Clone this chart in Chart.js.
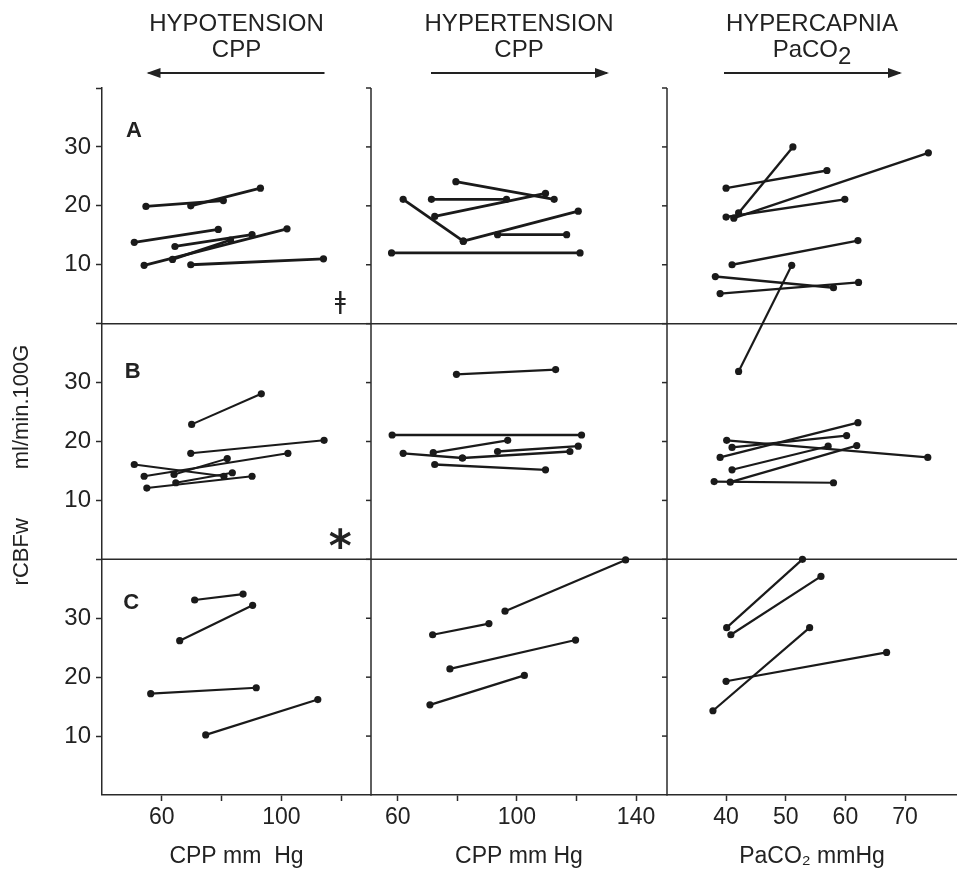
<!DOCTYPE html>
<html><head><meta charset="utf-8">
<script src="https://cdn.jsdelivr.net/npm/chart.js@4.4.0/dist/chart.umd.min.js"></script>
<style>html,body{margin:0;padding:0;background:#fff}#wrap{width:957px;height:874px}</style>
</head><body>
<div id="wrap"><canvas id="c" width="957" height="874"></canvas></div>
<script>
// ---- data: each entry = one animal, [x control, y control, x challenge, y challenge] ----
const hypotensionA = [
  [54.7, 19.9, 80.6, 20.9],
  [69.7, 20.0, 93.0, 23.0],
  [50.8, 13.8, 78.9, 16.0],
  [64.4, 13.1, 90.2, 15.1],
  [54.1, 9.9, 101.9, 16.1],
  [63.6, 10.9, 83.0, 14.2],
  [69.7, 10.0, 114.1, 11.0]
];
const hypertensionA = [
  [61.8, 21.1, 82.0, 14.0],
  [82.0, 14.0, 120.6, 19.1],
  [71.3, 21.1, 96.5, 21.1],
  [72.4, 18.2, 109.6, 22.1],
  [79.5, 24.1, 112.5, 21.1],
  [93.5, 15.1, 116.7, 15.1],
  [57.9, 12.0, 121.2, 12.0]
];
const hypercapniaA = [
  [40.0, 23.0, 56.9, 26.0],
  [42.1, 18.8, 51.2, 30.0],
  [40.0, 18.1, 59.9, 21.1],
  [41.3, 17.9, 73.9, 29.0],
  [41.0, 10.0, 62.1, 14.1],
  [38.2, 8.0, 58.0, 6.1],
  [39.0, 5.1, 62.2, 7.0]
];
const hypotensionB = [
  [70.0, 22.9, 93.3, 28.1],
  [69.7, 18.0, 114.3, 20.2],
  [54.1, 14.1, 102.2, 18.0],
  [50.8, 16.1, 80.8, 14.1],
  [64.1, 14.4, 81.9, 17.1],
  [55.0, 12.1, 90.2, 14.1],
  [64.7, 13.0, 83.6, 14.7]
];
const hypertensionB = [
  [79.7, 31.4, 113.0, 32.2],
  [58.1, 21.1, 121.7, 21.1],
  [61.8, 18.0, 81.7, 17.2],
  [71.9, 18.1, 96.9, 20.2],
  [81.7, 17.2, 117.8, 18.3],
  [93.5, 18.3, 120.6, 19.2],
  [72.4, 16.1, 109.6, 15.2]
];
const hypercapniaB = [
  [42.1, 31.9, 51.0, 49.9],
  [40.1, 20.2, 73.8, 17.3],
  [41.0, 19.0, 60.2, 21.0],
  [39.0, 17.3, 62.1, 23.2],
  [41.0, 15.2, 57.1, 19.2],
  [40.7, 13.1, 61.9, 19.3],
  [38.0, 13.2, 58.0, 13.0]
];
const hypotensionC = [
  [71.0, 33.1, 87.2, 34.1],
  [66.0, 26.2, 90.4, 32.2],
  [56.3, 17.2, 91.6, 18.2],
  [74.7, 10.2, 112.2, 16.2]
];
const hypertensionC = [
  [96.0, 31.2, 136.5, 39.9],
  [71.7, 27.2, 90.6, 29.1],
  [77.5, 21.4, 119.7, 26.3],
  [70.8, 15.3, 102.5, 20.3]
];
const hypercapniaC = [
  [40.1, 28.4, 52.8, 40.0],
  [40.8, 27.2, 55.9, 37.1],
  [37.8, 14.3, 54.0, 28.4],
  [40.0, 19.3, 66.9, 24.2]
];

// ---- tick values and labels ----
const flowTicks = [10, 20, 30, 40];
const flowTickLabels = [10, 20, 30];
const cppLowTicks = [60, 80, 100, 120];
const cppLowTickLabels = [60, 100];
const cppHighTicks = [60, 80, 100, 120, 140];
const cppHighTickLabels = [60, 100, 140];
const paco2Ticks = [40, 50, 60, 70];
const paco2TickLabels = [40, 50, 60, 70];

const columnTitles = ['HYPOTENSION', 'HYPERTENSION', 'HYPERCAPNIA'];
const columnSubtitles = ['CPP', 'CPP', 'PaCO'];
const columnSubscripts = ['', '', '2'];
const arrowDirections = [-1, 1, 1];
const xTitles = ['CPP mm  Hg', 'CPP mm Hg', 'PaCO\u2082 mmHg'];
const yTitle = 'rCBFw        ml/min.100G';
const rowLetters = ['A', 'B', 'C'];

const FONT = '"Liberation Sans", Arial, Helvetica, sans-serif';
const INK = '#1a1a1a';
const AXIS = '#2a2a2a';

function lines(rows, xID, yID, w) {
  return rows.map(r => ({
    data: [{x: r[0], y: r[1]}, {x: r[2], y: r[3]}],
    xAxisID: xID, yAxisID: yID, showLine: true,
    borderColor: INK, backgroundColor: INK, borderWidth: w,
    pointRadius: 3.6, pointBorderWidth: 0, pointHoverRadius: 3.6, clip: false
  }));
}

function xScale(min, max, ticks, shown, title, weight, sw) {
  return {
    type: 'linear', position: 'bottom', stack: 'cols', stackWeight: sw, weight: weight,
    min: min, max: max,
    afterBuildTicks: s => { s.ticks = ticks.map(v => ({value: v})); },
    afterFit: s => { s.height = 79; s.paddingLeft = 0; s.paddingRight = 0; },
    ticks: {callback: v => shown.includes(v) ? String(v) : '', font: {family: FONT, size: 23},
            color: '#222', padding: 3, maxRotation: 0, autoSkip: false},
    grid: {drawOnChartArea: false, drawTicks: true, tickLength: 6, tickWidth: 1.5, color: AXIS},
    border: {display: true, color: AXIS, width: 1.5},
    title: {display: true, text: title, font: {family: FONT, size: 23}, color: '#222', padding: {top: 0, bottom: 4}}
  };
}
function yScale(weight) {
  return {
    type: 'linear', position: 'left', stack: 'rows', stackWeight: 1, weight: weight,
    min: 0, max: 40,
    afterBuildTicks: s => { s.ticks = flowTicks.map(v => ({value: v})); },
    afterFit: s => { s.width = 102; s.paddingTop = 0; s.paddingBottom = 0; s.paddingLeft = 0; s.paddingRight = 0; },
    ticks: {callback: v => flowTickLabels.includes(v) ? String(v) : '', font: {family: FONT, size: 24},
            color: '#222', padding: 5},
    grid: {drawOnChartArea: false, drawTicks: true, tickLength: 6, tickWidth: 1.5, color: AXIS},
    border: {display: true, color: AXIS, width: 1.5}
  };
}

function line(ctx, x1, y1, x2, y2) { ctx.beginPath(); ctx.moveTo(x1, y1); ctx.lineTo(x2, y2); ctx.stroke(); }
function centered(ctx, text, x, y) {
  const m = ctx.measureText(text);
  const h = m.actualBoundingBoxAscent + m.actualBoundingBoxDescent;
  const w = m.actualBoundingBoxLeft + m.actualBoundingBoxRight;
  ctx.textAlign = 'left'; ctx.textBaseline = 'alphabetic';
  ctx.fillText(text, x - w / 2 + m.actualBoundingBoxLeft, y + h / 2 - m.actualBoundingBoxDescent);
}

const framePlugin = {
  id: 'frame',
  beforeDatasetsDraw(chart) {
    const {ctx, chartArea: ca, scales: s} = chart;
    ctx.save();
    ctx.strokeStyle = AXIS; ctx.lineWidth = 1.5;
    [s.yA.bottom, s.yB.bottom].forEach(y => line(ctx, ca.left, y, chart.width, y));
    [s.xHigh.left, s.xCO2.left].forEach(x => {
      line(ctx, x, ca.top, x, ca.bottom);
      ['yA', 'yB', 'yC'].forEach(id => flowTicks.forEach(v => {
        const py = s[id].getPixelForValue(v);
        line(ctx, x - 5, py, x, py);
      }));
    });
    ctx.restore();
  },
  afterDraw(chart) {
    const {ctx, chartArea: ca, scales: s} = chart;
    ctx.save();
    ctx.fillStyle = '#222'; ctx.strokeStyle = '#222';
    ['xLow', 'xHigh', 'xCO2'].forEach((id, i) => {
      const sc = s[id];
      const cx = (sc.left + sc.right) / 2;
      ctx.font = '24px ' + FONT;
      ctx.textAlign = 'center'; ctx.textBaseline = 'middle';
      ctx.fillText(columnTitles[i], cx, 24);
      const main = columnSubtitles[i], sub = columnSubscripts[i];
      const wm = ctx.measureText(main).width, ws = sub ? ctx.measureText(sub).width : 0;
      ctx.textAlign = 'left';
      ctx.fillText(main, cx - (wm + ws) / 2, 50);
      if (sub) ctx.fillText(sub, cx - (wm + ws) / 2 + wm, 57);
      const half = 88, ay = 73, d = arrowDirections[i];
      ctx.lineWidth = 2;
      line(ctx, cx - half, ay, cx + half, ay);
      const tip = cx + d * half;
      ctx.beginPath();
      ctx.moveTo(tip + d * 2, ay);
      ctx.lineTo(tip - d * 12, ay - 5);
      ctx.lineTo(tip - d * 12, ay + 5);
      ctx.closePath(); ctx.fill();
    });
    ctx.save();
    ctx.translate(22, 465);
    ctx.rotate(-Math.PI / 2);
    ctx.font = '22px ' + FONT;
    ctx.textAlign = 'center'; ctx.textBaseline = 'middle';
    ctx.fillText(yTitle, 0, 0);
    ctx.restore();
    ctx.font = 'bold 22px ' + FONT;
    centered(ctx, rowLetters[0], s.xLow.getPixelForValue(50.7), s.yA.getPixelForValue(32.0));
    centered(ctx, rowLetters[1], s.xLow.getPixelForValue(50.3), s.yB.getPixelForValue(32.0));
    centered(ctx, rowLetters[2], s.xLow.getPixelForValue(49.8), s.yC.getPixelForValue(32.8));
    ctx.font = '24px "DejaVu Sans"';
    centered(ctx, '\u01C2', s.xLow.getPixelForValue(119.7), s.yA.getPixelForValue(3.6));
    ctx.font = 'bold 44px "DejaVu Sans"';
    centered(ctx, '*', s.xLow.getPixelForValue(119.7), s.yB.getPixelForValue(3.6));
    ctx.restore();
  }
};

const datasets = [].concat(
  lines(hypotensionA, 'xLow', 'yA', 2.8), lines(hypertensionA, 'xHigh', 'yA', 2.8), lines(hypercapniaA, 'xCO2', 'yA', 2.4),
  lines(hypotensionB, 'xLow', 'yB', 2), lines(hypertensionB, 'xHigh', 'yB', 2.3), lines(hypercapniaB, 'xCO2', 'yB', 2.2),
  lines(hypotensionC, 'xLow', 'yC', 2.2), lines(hypertensionC, 'xHigh', 'yC', 2.2), lines(hypercapniaC, 'xCO2', 'yC', 2.2)
);

new Chart(document.getElementById('c'), {
  type: 'scatter',
  data: {datasets: datasets},
  options: {
    responsive: false, animation: false,
    layout: {autoPadding: false, padding: {top: 88, left: 0, right: 0, bottom: 0}},
    plugins: {legend: {display: false}, tooltip: {enabled: false}, title: {display: false}},
    scales: {
      xLow: xScale(40, 130, cppLowTicks, cppLowTickLabels, xTitles[0], 1, 269),
      xHigh: xScale(51, 150.4, cppHighTicks, cppHighTickLabels, xTitles[1], 2, 296),
      xCO2: xScale(30.1, 78.7, paco2Ticks, paco2TickLabels, xTitles[2], 3, 290),
      yA: yScale(3),
      yB: yScale(2),
      yC: yScale(1)
    }
  },
  plugins: [framePlugin]
});
</script>
</body></html>
